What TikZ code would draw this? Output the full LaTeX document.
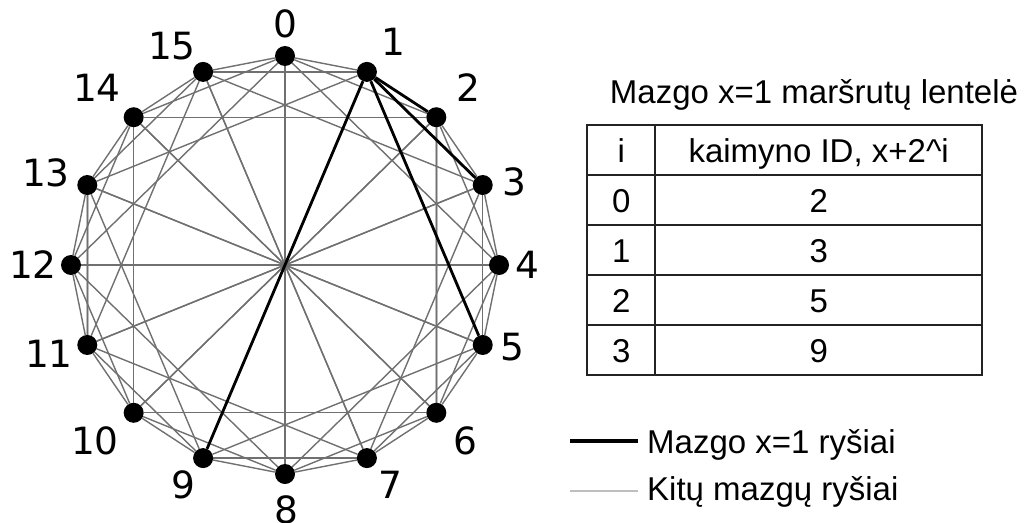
\documentclass[tikz,border=0pt]{standalone}
\usepackage{fontspec}
\setmainfont{Liberation Sans}
\newfontfamily\ringfont{DejaVu Sans}
\usetikzlibrary{matrix, positioning, backgrounds}

\definecolor{ringgray}{RGB}{112,112,112}
\definecolor{fadegray}{RGB}{190,190,190}
\definecolor{tblline}{RGB}{35,35,35}

\begin{document}
\begin{tikzpicture}[
    x=1pt, y=-1pt,
    font=\fontsize{33}{38}\selectfont,
    peer/.style={circle, fill=black, inner sep=0pt, minimum size=20pt},
    idlabel/.style={font=\ringfont\fontsize{37.5}{42}\selectfont, inner sep=0pt},
    finger/.style={draw=ringgray, line width=1.4pt},
    faded/.style={draw=fadegray, line width=2.6pt},
    ownlink/.style={draw=black, line width=2.8pt},
    cell/.style={draw=tblline, line width=2pt, inner sep=0pt, outer sep=0pt,
                 minimum height=50pt, text height=23.6pt, text depth=0pt},
]
\useasboundingbox (0,0) rectangle (1033,522);

% ring of 16 peers
\foreach \n in {0,...,15}
  \node[peer] (p\n) at ({285+214*sin(22.5*\n)}, {265-209*cos(22.5*\n)}) {};

\foreach \n/\lx/\ly in {0/285/24, 1/393/42, 2/468/88, 3/514/182, 4/527/265,
                        5/512/347, 6/465/441, 7/390/485, 8/286/510, 9/183/485,
                        10/95/441, 11/49/354, 12/33/265, 13/46/173, 14/97/88,
                        15/172/46}
  \node[idlabel] (l\n) at (\lx,\ly) {\n};

\begin{scope}[on background layer]
  \draw[faded] (p2) -- (p6);
  \draw[faded] (p11) -- (p13);
  \foreach \n in {0,...,15}
    \foreach \s in {1,2,4,8} {
      \pgfmathtruncatemacro\m{mod(\n+\s,16)}
      \draw[finger] (p\n) -- (p\m);
    }
  \foreach \m in {2,3,5,9}
    \draw[ownlink] (p1) -- (p\m);
\end{scope}

% routing table of node 1
\node[anchor=base] (title) at (814,103) {Mazgo x=1 maršrutų lentelė};

\matrix (routes) [matrix of nodes, anchor=north west, inner sep=0pt,
                  column sep=-2pt, row sep=-2pt,
                  nodes={cell},
                  column 1/.style={nodes={minimum width=68pt}},
                  column 2/.style={nodes={minimum width=327pt}}]
  at (586,124) {
  i & kaimyno ID, x+2\textasciicircum i \\
  0 & 2 \\
  1 & 3 \\
  2 & 5 \\
  3 & 9 \\
};

% legend
\coordinate (ownA) at (570,441);
\coordinate (ownB) at (638,441);
\coordinate (fadeA) at (570,491);
\coordinate (fadeB) at (638,491);
\draw[ownlink, line width=3.2pt] (ownA) -- (ownB);
\draw[faded] (fadeA) -- (fadeB);
\node[anchor=base west, inner sep=0pt] (ownkey) at (647,453) {Mazgo x=1 ryšiai};
\node[anchor=base west, inner sep=0pt] (fadekey) at (647,500) {Kitų mazgų ryšiai};

\end{tikzpicture}
\end{document}
